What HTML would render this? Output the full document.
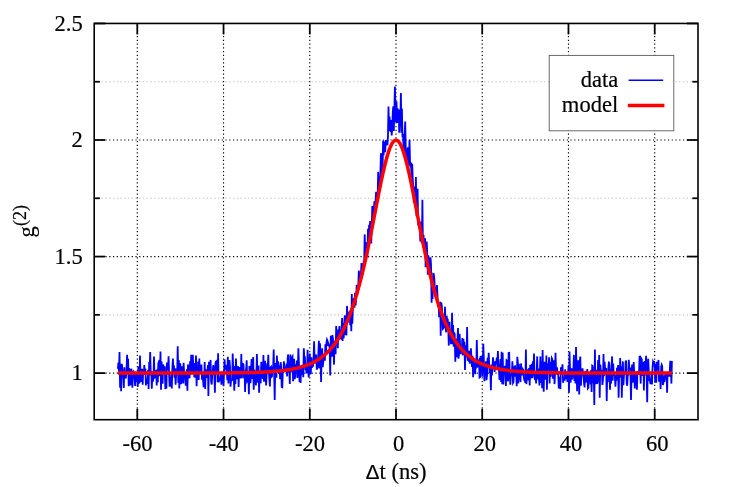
<!DOCTYPE html>
<html><head><meta charset="utf-8"><title>g2 plot</title>
<style>
html,body{margin:0;padding:0;background:#fff;}
body{width:731px;height:487px;overflow:hidden;position:relative;font-family:"Liberation Serif",serif;}
</style></head><body>
<svg width="731" height="487" viewBox="0 0 731 487" style="position:absolute;left:0;top:0;display:block;will-change:transform">
<rect x="0" y="0" width="731" height="487" fill="#ffffff"/>
<g fill="none" stroke-width="1.15" stroke-dasharray="1.2 2.55">
<line x1="94.2" y1="314.83" x2="698.0" y2="314.83" stroke="#c0c0c0"/>
<line x1="94.2" y1="198.28" x2="698.0" y2="198.28" stroke="#c0c0c0"/>
<line x1="94.2" y1="81.73" x2="698.0" y2="81.73" stroke="#c0c0c0"/>
<line x1="94.2" y1="373.10" x2="698.0" y2="373.10" stroke="#000"/>
<line x1="94.2" y1="256.55" x2="698.0" y2="256.55" stroke="#000"/>
<line x1="94.2" y1="140.00" x2="698.0" y2="140.00" stroke="#000"/>
<line x1="137.30" y1="419.7" x2="137.30" y2="23.45" stroke="#000"/>
<line x1="223.53" y1="419.7" x2="223.53" y2="23.45" stroke="#000"/>
<line x1="309.77" y1="419.7" x2="309.77" y2="23.45" stroke="#000"/>
<line x1="396.00" y1="419.7" x2="396.00" y2="23.45" stroke="#000"/>
<line x1="482.23" y1="419.7" x2="482.23" y2="23.45" stroke="#000"/>
<line x1="568.47" y1="419.7" x2="568.47" y2="23.45" stroke="#000"/>
<line x1="654.70" y1="419.7" x2="654.70" y2="23.45" stroke="#000"/>
</g>
<g stroke="#000" stroke-width="1.75" fill="none">
<line x1="137.30" y1="419.7" x2="137.30" y2="408.7"/>
<line x1="137.30" y1="23.45" x2="137.30" y2="34.45"/>
<line x1="223.53" y1="419.7" x2="223.53" y2="408.7"/>
<line x1="223.53" y1="23.45" x2="223.53" y2="34.45"/>
<line x1="309.77" y1="419.7" x2="309.77" y2="408.7"/>
<line x1="309.77" y1="23.45" x2="309.77" y2="34.45"/>
<line x1="396.00" y1="419.7" x2="396.00" y2="408.7"/>
<line x1="396.00" y1="23.45" x2="396.00" y2="34.45"/>
<line x1="482.23" y1="419.7" x2="482.23" y2="408.7"/>
<line x1="482.23" y1="23.45" x2="482.23" y2="34.45"/>
<line x1="568.47" y1="419.7" x2="568.47" y2="408.7"/>
<line x1="568.47" y1="23.45" x2="568.47" y2="34.45"/>
<line x1="654.70" y1="419.7" x2="654.70" y2="408.7"/>
<line x1="654.70" y1="23.45" x2="654.70" y2="34.45"/>
<line x1="94.2" y1="373.10" x2="105.2" y2="373.10"/>
<line x1="698.0" y1="373.10" x2="687.0" y2="373.10"/>
<line x1="94.2" y1="256.55" x2="105.2" y2="256.55"/>
<line x1="698.0" y1="256.55" x2="687.0" y2="256.55"/>
<line x1="94.2" y1="140.00" x2="105.2" y2="140.00"/>
<line x1="698.0" y1="140.00" x2="687.0" y2="140.00"/>
<line x1="94.2" y1="23.45" x2="105.2" y2="23.45"/>
<line x1="698.0" y1="23.45" x2="687.0" y2="23.45"/>
<line x1="94.2" y1="314.83" x2="99.9" y2="314.83"/>
<line x1="698.0" y1="314.83" x2="692.3" y2="314.83"/>
<line x1="94.2" y1="198.28" x2="99.9" y2="198.28"/>
<line x1="698.0" y1="198.28" x2="692.3" y2="198.28"/>
<line x1="94.2" y1="81.73" x2="99.9" y2="81.73"/>
<line x1="698.0" y1="81.73" x2="692.3" y2="81.73"/>
</g>
<rect x="549.2" y="55.4" width="124.6" height="75.4" fill="#fff" stroke="#5a5a5a" stroke-width="0.9"/>
<path d="M117.9,368.8 L118.4,362.5 L119.0,372.5 L119.5,352.0 L120.1,387.7 L120.6,363.8 L121.1,391.2 L121.7,363.8 L122.2,367.0 L122.7,375.6 L123.3,377.3 L123.8,388.0 L124.4,367.2 L124.9,378.6 L125.4,375.4 L126.0,376.4 L126.5,371.4 L127.1,354.9 L127.6,372.3 L128.1,358.8 L128.7,386.2 L129.2,368.1 L129.8,370.9 L130.3,385.2 L130.8,384.0 L131.4,368.7 L131.9,373.5 L132.4,387.7 L133.0,372.0 L133.5,371.4 L134.1,373.7 L134.6,377.8 L135.1,386.0 L135.7,377.1 L136.2,372.6 L136.8,381.6 L137.3,374.5 L137.8,386.9 L138.4,366.3 L138.9,382.8 L139.5,382.4 L140.0,355.6 L140.5,375.8 L141.1,381.9 L141.6,372.0 L142.1,368.8 L142.7,384.7 L143.2,369.7 L143.8,374.8 L144.3,365.0 L144.8,374.7 L145.4,368.5 L145.9,385.5 L146.5,378.6 L147.0,381.3 L147.5,383.9 L148.1,369.9 L148.6,389.1 L149.2,362.0 L149.7,369.6 L150.2,352.0 L150.8,375.5 L151.3,371.1 L151.8,388.8 L152.4,372.0 L152.9,381.6 L153.5,377.9 L154.0,356.4 L154.5,377.7 L155.1,377.2 L155.6,374.1 L156.2,370.2 L156.7,385.5 L157.2,369.4 L157.8,382.4 L158.3,363.4 L158.9,361.9 L159.4,359.9 L159.9,376.2 L160.5,351.6 L161.0,389.8 L161.6,361.6 L162.1,371.2 L162.6,383.6 L163.2,364.5 L163.7,367.5 L164.2,370.5 L164.8,366.2 L165.3,389.1 L165.9,374.6 L166.4,388.6 L166.9,362.5 L167.5,368.1 L168.0,370.0 L168.6,356.4 L169.1,374.0 L169.6,386.8 L170.2,376.9 L170.7,386.7 L171.3,373.7 L171.8,388.4 L172.3,370.0 L172.9,358.5 L173.4,372.6 L173.9,365.4 L174.5,377.6 L175.0,368.3 L175.6,384.8 L176.1,375.7 L176.6,371.8 L177.2,373.3 L177.7,346.3 L178.3,382.9 L178.8,360.0 L179.3,388.6 L179.9,363.4 L180.4,364.9 L181.0,384.3 L181.5,376.3 L182.0,366.4 L182.6,374.4 L183.1,383.4 L183.6,362.8 L184.2,374.5 L184.7,372.4 L185.3,381.9 L185.8,385.6 L186.3,376.8 L186.9,369.3 L187.4,390.8 L188.0,364.4 L188.5,372.9 L189.0,373.2 L189.6,378.3 L190.1,361.2 L190.7,372.1 L191.2,354.8 L191.7,369.7 L192.3,372.2 L192.8,354.9 L193.4,369.2 L193.9,372.4 L194.4,377.4 L195.0,363.0 L195.5,377.6 L196.0,355.6 L196.6,386.2 L197.1,369.5 L197.7,374.5 L198.2,361.5 L198.7,380.0 L199.3,358.5 L199.8,372.8 L200.4,368.5 L200.9,371.5 L201.4,364.5 L202.0,379.6 L202.5,374.5 L203.1,380.7 L203.6,387.2 L204.1,381.4 L204.7,362.1 L205.2,389.1 L205.7,369.6 L206.3,370.9 L206.8,377.8 L207.4,373.2 L207.9,365.1 L208.4,396.0 L209.0,361.7 L209.5,373.4 L210.1,370.5 L210.6,359.9 L211.1,381.4 L211.7,384.5 L212.2,375.5 L212.8,370.4 L213.3,365.1 L213.8,368.9 L214.4,376.2 L214.9,392.7 L215.4,363.6 L216.0,361.0 L216.5,373.5 L217.1,359.9 L217.6,382.2 L218.1,353.2 L218.7,382.4 L219.2,379.8 L219.8,380.0 L220.3,379.3 L220.8,374.4 L221.4,384.6 L221.9,371.8 L222.5,382.6 L223.0,372.3 L223.5,386.2 L224.1,371.5 L224.6,359.4 L225.1,369.6 L225.7,364.9 L226.2,369.2 L226.8,371.9 L227.3,380.1 L227.8,356.8 L228.4,383.6 L228.9,360.9 L229.5,360.9 L230.0,367.1 L230.5,386.7 L231.1,380.5 L231.6,380.4 L232.2,380.0 L232.7,353.5 L233.2,368.6 L233.8,376.2 L234.3,390.8 L234.9,365.9 L235.4,384.1 L235.9,358.5 L236.5,369.6 L237.0,379.3 L237.5,368.1 L238.1,366.3 L238.6,387.0 L239.2,369.4 L239.7,367.0 L240.2,372.8 L240.8,378.5 L241.3,353.9 L241.9,378.1 L242.4,364.8 L242.9,363.9 L243.5,364.5 L244.0,378.2 L244.6,373.4 L245.1,392.0 L245.6,371.4 L246.2,368.5 L246.7,360.2 L247.2,381.5 L247.8,380.7 L248.3,374.8 L248.9,394.2 L249.4,365.9 L249.9,372.9 L250.5,383.3 L251.0,370.9 L251.6,359.1 L252.1,376.8 L252.6,378.7 L253.2,357.1 L253.7,389.8 L254.3,369.7 L254.8,375.1 L255.3,374.6 L255.9,385.5 L256.4,373.8 L256.9,353.9 L257.5,379.1 L258.0,382.6 L258.6,365.6 L259.1,392.7 L259.6,371.1 L260.2,378.7 L260.7,383.3 L261.3,361.8 L261.8,376.5 L262.3,375.1 L262.9,378.8 L263.4,354.9 L264.0,381.7 L264.5,375.0 L265.0,360.7 L265.6,373.9 L266.1,385.5 L266.6,375.8 L267.2,363.4 L267.7,369.0 L268.3,354.9 L268.8,370.6 L269.3,377.9 L269.9,386.5 L270.4,367.5 L271.0,366.8 L271.5,376.9 L272.0,376.4 L272.6,366.6 L273.1,369.4 L273.7,349.6 L274.2,374.6 L274.7,399.9 L275.3,363.0 L275.8,368.7 L276.4,377.7 L276.9,355.6 L277.4,369.4 L278.0,361.4 L278.5,365.8 L279.0,373.3 L279.6,365.2 L280.1,379.3 L280.7,362.2 L281.2,367.6 L281.7,387.0 L282.3,387.3 L282.8,372.3 L283.4,372.2 L283.9,361.2 L284.4,367.4 L285.0,368.6 L285.5,369.5 L286.1,368.2 L286.6,363.6 L287.1,376.4 L287.7,357.8 L288.2,354.5 L288.7,372.6 L289.3,370.4 L289.8,384.0 L290.4,354.4 L290.9,372.4 L291.4,362.0 L292.0,357.6 L292.5,356.7 L293.1,381.2 L293.6,376.5 L294.1,358.7 L294.7,379.2 L295.2,376.4 L295.8,364.3 L296.3,368.7 L296.8,360.6 L297.4,378.0 L297.9,366.2 L298.4,348.3 L299.0,364.9 L299.5,382.0 L300.1,371.0 L300.6,383.0 L301.1,365.9 L301.7,375.0 L302.2,364.7 L302.8,367.3 L303.3,377.2 L303.8,348.3 L304.4,359.2 L304.9,356.3 L305.5,370.2 L306.0,368.8 L306.5,373.3 L307.1,371.0 L307.6,349.8 L308.1,367.2 L308.7,377.5 L309.2,372.0 L309.8,353.6 L310.3,367.3 L310.8,374.2 L311.4,357.4 L311.9,367.9 L312.5,363.5 L313.0,366.8 L313.5,360.4 L314.1,341.2 L314.6,361.3 L315.2,363.1 L315.7,354.5 L316.2,355.7 L316.8,369.6 L317.3,368.0 L317.9,366.4 L318.4,351.6 L318.9,340.8 L319.5,368.6 L320.0,343.3 L320.5,357.0 L321.1,381.9 L321.6,356.8 L322.2,348.2 L322.7,367.2 L323.2,362.5 L323.8,358.7 L324.3,359.9 L324.9,359.9 L325.4,344.4 L325.9,353.7 L326.5,342.3 L327.0,339.6 L327.6,341.0 L328.1,345.7 L328.6,344.1 L329.2,345.7 L329.7,348.5 L330.2,375.4 L330.8,335.8 L331.3,348.1 L331.9,356.8 L332.4,335.1 L332.9,338.4 L333.5,346.7 L334.0,364.6 L334.6,340.6 L335.1,344.4 L335.6,354.3 L336.2,326.1 L336.7,341.5 L337.3,331.9 L337.8,348.2 L338.3,329.2 L338.9,337.9 L339.4,326.0 L339.9,333.6 L340.5,338.4 L341.0,338.6 L341.6,329.9 L342.1,318.1 L342.6,340.9 L343.2,323.0 L343.7,338.1 L344.3,323.6 L344.8,315.3 L345.3,335.0 L345.9,316.0 L346.4,335.4 L347.0,305.9 L347.5,321.9 L348.0,321.8 L348.6,314.7 L349.1,315.8 L349.6,310.8 L350.2,325.1 L350.7,311.6 L351.3,331.2 L351.8,293.9 L352.3,323.7 L352.9,308.2 L353.4,301.5 L354.0,297.8 L354.5,307.8 L355.0,292.7 L355.6,305.3 L356.1,299.4 L356.7,284.7 L357.2,295.5 L357.7,291.5 L358.3,286.1 L358.8,270.6 L359.4,276.2 L359.9,273.3 L360.4,278.4 L361.0,272.5 L361.5,263.1 L362.0,269.6 L362.6,266.2 L363.1,268.0 L363.7,261.5 L364.2,261.5 L364.7,234.4 L365.3,253.7 L365.8,257.0 L366.4,242.3 L366.9,254.0 L367.4,254.9 L368.0,228.8 L368.5,247.2 L369.1,224.8 L369.6,240.9 L370.1,221.1 L370.7,228.9 L371.2,243.4 L371.7,228.5 L372.3,206.0 L372.8,212.8 L373.4,214.2 L373.9,208.5 L374.4,201.4 L375.0,202.7 L375.5,201.9 L376.1,191.7 L376.6,200.7 L377.1,200.3 L377.7,192.9 L378.2,171.9 L378.8,191.8 L379.3,185.7 L379.8,183.4 L380.4,173.0 L380.9,153.2 L381.4,155.9 L382.0,170.7 L382.5,175.0 L383.1,140.6 L383.6,155.5 L384.1,141.6 L384.7,147.0 L385.2,152.3 L385.8,140.1 L386.3,141.2 L386.8,143.2 L387.4,145.3 L387.9,138.9 L388.5,106.4 L389.0,130.9 L389.5,116.6 L390.1,124.4 L390.6,132.0 L391.1,120.0 L391.7,135.5 L392.2,128.7 L392.8,112.1 L393.3,106.4 L393.8,131.1 L394.4,108.7 L394.9,86.5 L395.5,109.0 L396.0,122.5 L396.5,101.3 L397.1,123.0 L397.6,108.2 L398.2,117.6 L398.7,109.6 L399.2,132.7 L399.8,117.8 L400.3,122.6 L400.9,92.9 L401.4,132.8 L401.9,108.4 L402.5,137.5 L403.0,134.0 L403.5,146.7 L404.1,151.5 L404.6,136.3 L405.2,121.5 L405.7,146.1 L406.2,156.8 L406.8,163.5 L407.3,152.8 L407.9,147.3 L408.4,154.5 L408.9,165.7 L409.5,139.7 L410.0,161.6 L410.6,167.4 L411.1,162.6 L411.6,183.6 L412.2,163.7 L412.7,178.0 L413.2,187.7 L413.8,202.8 L414.3,187.4 L414.9,187.7 L415.4,203.9 L415.9,177.1 L416.5,216.3 L417.0,213.0 L417.6,188.7 L418.1,224.7 L418.6,225.2 L419.2,228.6 L419.7,221.6 L420.3,241.4 L420.8,221.8 L421.3,240.4 L421.9,243.1 L422.4,199.7 L422.9,246.0 L423.5,234.8 L424.0,246.8 L424.6,250.7 L425.1,238.3 L425.6,267.2 L426.2,244.1 L426.7,241.5 L427.3,255.0 L427.8,274.8 L428.3,255.3 L428.9,261.3 L429.4,260.1 L430.0,274.0 L430.5,257.3 L431.0,264.6 L431.6,302.7 L432.1,284.6 L432.6,299.0 L433.2,273.8 L433.7,274.0 L434.3,278.7 L434.8,287.3 L435.3,287.9 L435.9,289.9 L436.4,298.3 L437.0,285.1 L437.5,296.4 L438.0,305.9 L438.6,305.7 L439.1,317.3 L439.7,302.9 L440.2,302.7 L440.7,335.8 L441.3,302.5 L441.8,306.3 L442.4,315.9 L442.9,328.8 L443.4,328.3 L444.0,326.8 L444.5,322.4 L445.0,306.8 L445.6,326.5 L446.1,332.3 L446.7,315.8 L447.2,322.7 L447.7,318.9 L448.3,330.0 L448.8,345.6 L449.4,321.7 L449.9,337.5 L450.4,335.7 L451.0,344.1 L451.5,333.5 L452.1,312.7 L452.6,344.3 L453.1,324.9 L453.7,346.8 L454.2,332.5 L454.7,334.3 L455.3,361.8 L455.8,340.1 L456.4,338.9 L456.9,357.1 L457.4,341.8 L458.0,328.0 L458.5,358.7 L459.1,353.3 L459.6,333.8 L460.1,345.1 L460.7,354.2 L461.2,346.2 L461.8,350.7 L462.3,338.1 L462.8,355.4 L463.4,338.7 L463.9,347.1 L464.4,341.8 L465.0,370.1 L465.5,345.3 L466.1,351.5 L466.6,357.3 L467.1,326.9 L467.7,360.8 L468.2,354.7 L468.8,361.7 L469.3,350.9 L469.8,363.7 L470.4,358.5 L470.9,348.3 L471.5,358.3 L472.0,367.0 L472.5,355.9 L473.1,377.2 L473.6,359.6 L474.1,366.7 L474.7,370.2 L475.2,374.1 L475.8,361.7 L476.3,365.9 L476.8,339.9 L477.4,366.5 L477.9,366.0 L478.5,361.3 L479.0,360.4 L479.5,377.5 L480.1,377.1 L480.6,355.9 L481.2,365.1 L481.7,356.3 L482.2,376.7 L482.8,361.4 L483.3,343.9 L483.9,361.6 L484.4,381.3 L484.9,366.0 L485.5,369.7 L486.0,361.2 L486.5,380.2 L487.1,374.4 L487.6,357.7 L488.2,365.6 L488.7,352.9 L489.2,365.2 L489.8,373.3 L490.3,369.8 L490.9,390.2 L491.4,364.5 L491.9,375.5 L492.5,366.8 L493.0,357.4 L493.6,364.8 L494.1,361.6 L494.6,371.9 L495.2,363.8 L495.7,361.3 L496.2,363.1 L496.8,357.6 L497.3,367.5 L497.9,351.0 L498.4,366.3 L498.9,369.0 L499.5,380.0 L500.0,366.7 L500.6,359.1 L501.1,382.0 L501.6,351.7 L502.2,384.2 L502.7,352.8 L503.3,384.5 L503.8,373.4 L504.3,367.3 L504.9,366.8 L505.4,368.3 L505.9,386.0 L506.5,360.2 L507.0,360.6 L507.6,378.8 L508.1,381.3 L508.6,352.9 L509.2,352.8 L509.7,371.9 L510.3,384.8 L510.8,376.6 L511.3,373.7 L511.9,373.6 L512.4,361.4 L513.0,382.9 L513.5,382.0 L514.0,368.6 L514.6,366.5 L515.1,366.3 L515.6,376.8 L516.2,372.9 L516.7,386.2 L517.3,356.8 L517.8,362.1 L518.3,383.5 L518.9,363.8 L519.4,379.7 L520.0,367.4 L520.5,382.1 L521.0,363.4 L521.6,375.3 L522.1,372.7 L522.7,369.0 L523.2,369.7 L523.7,376.4 L524.3,380.2 L524.8,380.4 L525.4,382.8 L525.9,349.6 L526.4,384.1 L527.0,374.7 L527.5,373.4 L528.0,369.4 L528.6,380.4 L529.1,368.0 L529.7,385.5 L530.2,364.8 L530.7,378.3 L531.3,372.0 L531.8,363.9 L532.4,378.3 L532.9,361.2 L533.4,375.2 L534.0,353.5 L534.5,376.3 L535.1,380.1 L535.6,372.7 L536.1,383.4 L536.7,372.2 L537.2,356.4 L537.7,379.4 L538.3,368.5 L538.8,373.8 L539.4,385.4 L539.9,371.4 L540.4,356.4 L541.0,383.1 L541.5,361.0 L542.1,388.3 L542.6,349.9 L543.1,371.7 L543.7,391.7 L544.2,366.5 L544.8,361.8 L545.3,373.3 L545.8,379.7 L546.4,355.6 L546.9,389.8 L547.4,370.5 L548.0,363.2 L548.5,369.1 L549.1,357.3 L549.6,383.4 L550.1,361.9 L550.7,376.8 L551.2,366.1 L551.8,358.1 L552.3,359.1 L552.8,378.7 L553.4,368.8 L553.9,360.3 L554.5,384.1 L555.0,374.4 L555.5,352.8 L556.1,372.7 L556.6,373.3 L557.1,367.4 L557.7,375.0 L558.2,373.8 L558.8,388.4 L559.3,376.9 L559.8,381.0 L560.4,389.1 L560.9,367.2 L561.5,372.1 L562.0,369.0 L562.5,364.3 L563.1,382.8 L563.6,378.5 L564.2,379.2 L564.7,379.6 L565.2,369.2 L565.8,379.0 L566.3,376.7 L566.9,371.6 L567.4,381.0 L567.9,380.8 L568.5,365.4 L569.0,392.7 L569.5,351.6 L570.1,371.9 L570.6,382.8 L571.2,374.8 L571.7,368.3 L572.2,379.4 L572.8,374.2 L573.3,373.3 L573.9,354.9 L574.4,380.9 L574.9,366.6 L575.5,383.5 L576.0,347.0 L576.6,369.3 L577.1,391.3 L577.6,376.9 L578.2,360.4 L578.7,376.3 L579.2,394.6 L579.8,360.7 L580.3,356.5 L580.9,385.7 L581.4,375.4 L581.9,372.0 L582.5,368.4 L583.0,372.4 L583.6,377.1 L584.1,383.9 L584.6,387.5 L585.2,370.9 L585.7,382.6 L586.3,376.7 L586.8,379.0 L587.3,369.1 L587.9,388.4 L588.4,387.7 L588.9,374.8 L589.5,381.4 L590.0,372.9 L590.6,384.5 L591.1,370.0 L591.6,392.0 L592.2,365.7 L592.7,366.1 L593.3,383.1 L593.8,375.5 L594.3,404.9 L594.9,349.6 L595.4,383.6 L596.0,383.4 L596.5,369.7 L597.0,383.7 L597.6,382.1 L598.1,359.9 L598.6,377.1 L599.2,354.9 L599.7,397.7 L600.3,364.5 L600.8,370.5 L601.3,373.0 L601.9,370.1 L602.4,384.9 L603.0,379.6 L603.5,353.9 L604.0,376.1 L604.6,361.7 L605.1,368.3 L605.7,372.7 L606.2,368.0 L606.7,400.9 L607.3,371.4 L607.8,382.1 L608.4,367.3 L608.9,361.6 L609.4,365.6 L610.0,389.8 L610.5,369.2 L611.0,383.7 L611.6,366.2 L612.1,356.4 L612.7,380.6 L613.2,363.6 L613.7,373.5 L614.3,375.1 L614.8,375.5 L615.4,386.8 L615.9,377.8 L616.4,380.6 L617.0,367.7 L617.5,373.8 L618.1,365.0 L618.6,397.7 L619.1,376.3 L619.7,377.6 L620.2,358.1 L620.7,377.4 L621.3,366.2 L621.8,397.7 L622.4,370.3 L622.9,361.4 L623.4,385.1 L624.0,375.2 L624.5,371.4 L625.1,374.6 L625.6,361.6 L626.1,360.5 L626.7,383.5 L627.2,385.8 L627.8,374.1 L628.3,375.6 L628.8,359.9 L629.4,368.6 L629.9,368.3 L630.4,368.4 L631.0,399.9 L631.5,376.1 L632.1,364.6 L632.6,382.8 L633.1,376.6 L633.7,362.1 L634.2,373.2 L634.8,388.4 L635.3,374.9 L635.8,371.8 L636.4,374.9 L636.9,389.8 L637.5,371.1 L638.0,372.2 L638.5,374.8 L639.1,371.1 L639.6,355.9 L640.2,368.9 L640.7,383.6 L641.2,358.4 L641.8,359.5 L642.3,375.8 L642.8,374.0 L643.4,362.0 L643.9,390.6 L644.5,360.9 L645.0,375.5 L645.5,368.6 L646.1,355.9 L646.6,373.4 L647.2,402.3 L647.7,368.9 L648.2,358.8 L648.8,371.8 L649.3,381.1 L649.9,378.6 L650.4,384.1 L650.9,382.3 L651.5,371.9 L652.0,384.5 L652.5,367.9 L653.1,361.4 L653.6,362.5 L654.2,361.1 L654.7,366.3 L655.2,382.7 L655.8,364.0 L656.3,382.7 L656.9,361.9 L657.4,366.9 L657.9,370.1 L658.5,359.9 L659.0,381.8 L659.6,372.0 L660.1,376.0 L660.6,389.1 L661.2,366.6 L661.7,364.7 L662.2,366.1 L662.8,384.9 L663.3,383.6 L663.9,375.3 L664.4,382.0 L664.9,378.4 L665.5,372.3 L666.0,375.6 L666.6,375.0 L667.1,392.7 L667.6,372.3 L668.2,376.4 L668.7,372.7 L669.3,376.7 L669.8,369.6 L670.3,360.7 L670.9,368.9 L671.4,383.6 L671.9,360.9" fill="none" stroke="#0000ff" stroke-width="1.8" stroke-linejoin="miter" stroke-miterlimit="4"/>
<path d="M117.90,373.10 L120.05,373.10 L122.21,373.10 L124.36,373.10 L126.52,373.10 L128.67,373.10 L130.83,373.10 L132.99,373.10 L135.14,373.10 L137.30,373.10 L139.45,373.10 L141.61,373.10 L143.77,373.10 L145.92,373.10 L148.08,373.10 L150.23,373.10 L152.39,373.09 L154.54,373.09 L156.70,373.09 L158.86,373.09 L161.01,373.09 L163.17,373.09 L165.32,373.09 L167.48,373.09 L169.64,373.09 L171.79,373.09 L173.95,373.08 L176.10,373.08 L178.26,373.08 L180.41,373.08 L182.57,373.08 L184.73,373.07 L186.88,373.07 L189.04,373.07 L191.19,373.07 L193.35,373.06 L195.51,373.06 L197.66,373.05 L199.82,373.05 L201.97,373.04 L204.13,373.04 L206.29,373.03 L208.44,373.02 L210.60,373.02 L212.75,373.01 L214.91,373.00 L217.06,372.98 L219.22,372.97 L221.38,372.96 L223.53,372.94 L225.69,372.93 L227.84,372.91 L230.00,372.89 L232.16,372.87 L234.31,372.84 L236.47,372.81 L238.62,372.78 L240.78,372.75 L242.93,372.71 L245.09,372.67 L247.25,372.62 L249.40,372.57 L251.56,372.52 L253.71,372.45 L255.87,372.38 L258.03,372.31 L260.18,372.22 L262.34,372.13 L264.49,372.02 L266.65,371.91 L268.80,371.78 L270.96,371.64 L273.12,371.49 L275.27,371.31 L277.43,371.12 L279.58,370.91 L281.74,370.68 L283.90,370.42 L286.05,370.13 L288.21,369.81 L290.36,369.46 L292.52,369.07 L294.68,368.64 L296.83,368.17 L298.99,367.64 L301.14,367.06 L303.30,366.41 L305.45,365.70 L307.61,364.91 L309.77,364.03 L311.92,363.06 L314.08,361.99 L316.23,360.81 L318.39,359.50 L320.55,358.06 L322.70,356.46 L324.86,354.69 L327.01,352.74 L329.17,350.58 L331.32,348.20 L333.48,345.57 L335.64,342.67 L337.79,339.48 L339.95,335.96 L342.10,332.09 L344.26,327.84 L346.42,323.18 L348.57,318.07 L350.73,312.48 L352.88,306.39 L355.04,299.76 L357.19,292.57 L359.35,284.81 L361.51,276.46 L363.66,267.52 L365.82,258.03 L367.97,248.01 L370.13,237.54 L372.29,226.70 L374.44,215.62 L376.60,204.46 L378.75,193.42 L380.91,182.73 L383.06,172.66 L385.22,163.48 L387.38,155.47 L389.53,148.90 L391.69,144.02 L393.84,141.02 L396.00,140.00 L398.16,141.02 L400.31,144.02 L402.47,148.90 L404.62,155.47 L406.78,163.48 L408.94,172.66 L411.09,182.73 L413.25,193.42 L415.40,204.46 L417.56,215.62 L419.71,226.70 L421.87,237.54 L424.03,248.01 L426.18,258.03 L428.34,267.52 L430.49,276.46 L432.65,284.81 L434.81,292.57 L436.96,299.76 L439.12,306.39 L441.27,312.48 L443.43,318.07 L445.58,323.18 L447.74,327.84 L449.90,332.09 L452.05,335.96 L454.21,339.48 L456.36,342.67 L458.52,345.57 L460.68,348.20 L462.83,350.58 L464.99,352.74 L467.14,354.69 L469.30,356.46 L471.45,358.06 L473.61,359.50 L475.77,360.81 L477.92,361.99 L480.08,363.06 L482.23,364.03 L484.39,364.91 L486.55,365.70 L488.70,366.41 L490.86,367.06 L493.01,367.64 L495.17,368.17 L497.32,368.64 L499.48,369.07 L501.64,369.46 L503.79,369.81 L505.95,370.13 L508.10,370.42 L510.26,370.68 L512.42,370.91 L514.57,371.12 L516.73,371.31 L518.88,371.49 L521.04,371.64 L523.20,371.78 L525.35,371.91 L527.51,372.02 L529.66,372.13 L531.82,372.22 L533.97,372.31 L536.13,372.38 L538.29,372.45 L540.44,372.52 L542.60,372.57 L544.75,372.62 L546.91,372.67 L549.07,372.71 L551.22,372.75 L553.38,372.78 L555.53,372.81 L557.69,372.84 L559.84,372.87 L562.00,372.89 L564.16,372.91 L566.31,372.93 L568.47,372.94 L570.62,372.96 L572.78,372.97 L574.94,372.98 L577.09,373.00 L579.25,373.01 L581.40,373.02 L583.56,373.02 L585.71,373.03 L587.87,373.04 L590.03,373.04 L592.18,373.05 L594.34,373.05 L596.49,373.06 L598.65,373.06 L600.81,373.07 L602.96,373.07 L605.12,373.07 L607.27,373.07 L609.43,373.08 L611.59,373.08 L613.74,373.08 L615.90,373.08 L618.05,373.08 L620.21,373.09 L622.36,373.09 L624.52,373.09 L626.68,373.09 L628.83,373.09 L630.99,373.09 L633.14,373.09 L635.30,373.09 L637.46,373.09 L639.61,373.09 L641.77,373.10 L643.92,373.10 L646.08,373.10 L648.23,373.10 L650.39,373.10 L652.55,373.10 L654.70,373.10 L656.86,373.10 L659.01,373.10 L661.17,373.10 L663.33,373.10 L665.48,373.10 L667.64,373.10 L669.79,373.10 L671.95,373.10" fill="none" stroke="#ff0000" stroke-width="3.5" stroke-linejoin="round" stroke-linecap="butt"/>
<line x1="628.6" y1="80.3" x2="663.2" y2="80.3" stroke="#0000ff" stroke-width="1.6"/>
<line x1="627.8" y1="105.5" x2="664.4" y2="105.5" stroke="#ff0000" stroke-width="3.6"/>
<rect x="94.2" y="23.45" width="603.8" height="396.25" fill="none" stroke="#000" stroke-width="1.6"/>
<g font-family="'Liberation Serif', serif" font-size="22" fill="#000" stroke="#000" stroke-width="0.18">
<text transform="translate(137.60,451.40) scale(1.025,1.045)" text-anchor="middle">-60</text>
<text transform="translate(223.83,451.40) scale(1.025,1.045)" text-anchor="middle">-40</text>
<text transform="translate(310.07,451.40) scale(1.025,1.045)" text-anchor="middle">-20</text>
<text transform="translate(398.60,451.40) scale(1.025,1.045)" text-anchor="middle">0</text>
<text transform="translate(484.83,451.40) scale(1.025,1.045)" text-anchor="middle">20</text>
<text transform="translate(571.07,451.40) scale(1.025,1.045)" text-anchor="middle">40</text>
<text transform="translate(657.30,451.40) scale(1.025,1.045)" text-anchor="middle">60</text>
<text transform="translate(82.70,380.30) scale(1.025,1.045)" text-anchor="end">1</text>
<text transform="translate(82.70,263.75) scale(1.025,1.045)" text-anchor="end">1.5</text>
<text transform="translate(82.70,147.20) scale(1.025,1.045)" text-anchor="end">2</text>
<text transform="translate(82.70,30.65) scale(1.025,1.045)" text-anchor="end">2.5</text>
<text transform="translate(618.20,86.60) scale(1.025,1.045)" text-anchor="end">data</text>
<text transform="translate(618.20,112.00) scale(1.025,1.045)" text-anchor="end">model</text>
<text transform="translate(396.20,479.40) scale(1.025,1.045)" text-anchor="middle"><tspan font-family="'Liberation Sans', sans-serif" font-size="20">&#916;</tspan>t (ns)</text>
<text transform="translate(33.6,237.4) rotate(-90) scale(1.025,1.045)">g<tspan font-size="17.6" dy="-7.7">(2)</tspan></text>
</g>
</svg>
</body></html>
